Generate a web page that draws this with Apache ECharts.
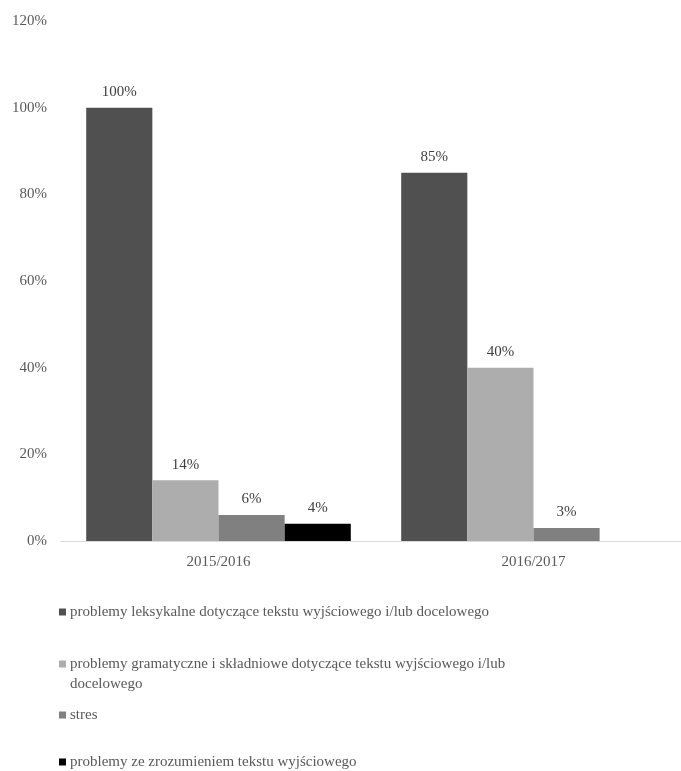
<!DOCTYPE html>
<html>
<head>
<meta charset="utf-8">
<script src="https://cdn.jsdelivr.net/npm/echarts@6/dist/echarts.min.js"></script>
<style>html,body{margin:0;padding:0;background:#fff;overflow:hidden}#c{width:700px;height:771px}</style>
</head>
<body>
<div id="c"></div>
<script>
var categories = ['2015/2016', '2016/2017'];
var seriesNames = [
  'problemy leksykalne dotyczące tekstu wyjściowego i/lub docelowego',
  'problemy gramatyczne i składniowe dotyczące tekstu wyjściowego i/lub docelowego',
  'stres',
  'problemy ze zrozumieniem tekstu wyjściowego'
];
var lexical = [100, 85];
var grammar = [14, 40];
var stress = [6, 3];
var comprehension = [4, null];
var yTicks = [0, 20, 40, 60, 80, 100, 120];

var colors = ['#505050', '#adadad', '#808080', '#000000'];
var values = [lexical, grammar, stress, comprehension];
var font = '"Liberation Serif", "Times New Roman", serif';

var series = values.map(function (v, i) {
  return {
    name: seriesNames[i],
    type: 'bar',
    data: v,
    barGap: '0%',
    barCategoryGap: '16%',
    itemStyle: { color: colors[i] },
    label: {
      show: true, position: 'top', distance: 8,
      formatter: function (p) { return p.value + '%'; },
      color: '#404040', fontFamily: font, fontSize: 15
    }
  };
});

var legendTops = [597, 629, 700, 747];
var legends = seriesNames.map(function (n, i) {
  return {
    data: [n],
    left: 54, top: legendTops[i],
    orient: 'vertical',
    icon: 'rect', itemWidth: 7, itemHeight: 7, itemGap: 0,
    selectedMode: false,
    formatter: i === 1 ? function (name) {
      return ' \nproblemy gramatyczne i składniowe dotyczące tekstu wyjściowego i/lub\ndocelowego';
    } : undefined,
    textStyle: { color: '#595959', fontFamily: font, fontSize: 15,
      padding: [0, 0, 0, -1], lineHeight: 20 }
  };
});

var chart = echarts.init(document.getElementById('c'));
chart.setOption({
  animation: false,
  backgroundColor: '#ffffff',
  grid: { left: 61, right: 9, top: 21, bottom: 230, containLabel: false },
  xAxis: {
    type: 'category', data: categories,
    axisLine: { lineStyle: { color: '#d9d9d9', width: 1 } },
    axisTick: { show: false },
    axisLabel: { color: '#595959', fontFamily: font, fontSize: 15, margin: 14 }
  },
  yAxis: {
    type: 'value', min: yTicks[0], max: yTicks[yTicks.length - 1], interval: 20,
    axisLine: { show: false }, axisTick: { show: false }, splitLine: { show: false },
    axisLabel: { color: '#595959', fontFamily: font, fontSize: 15, margin: 14,
      formatter: function (v) { return v + '%'; } }
  },
  legend: legends,
  series: series
});
</script>
</body>
</html>
